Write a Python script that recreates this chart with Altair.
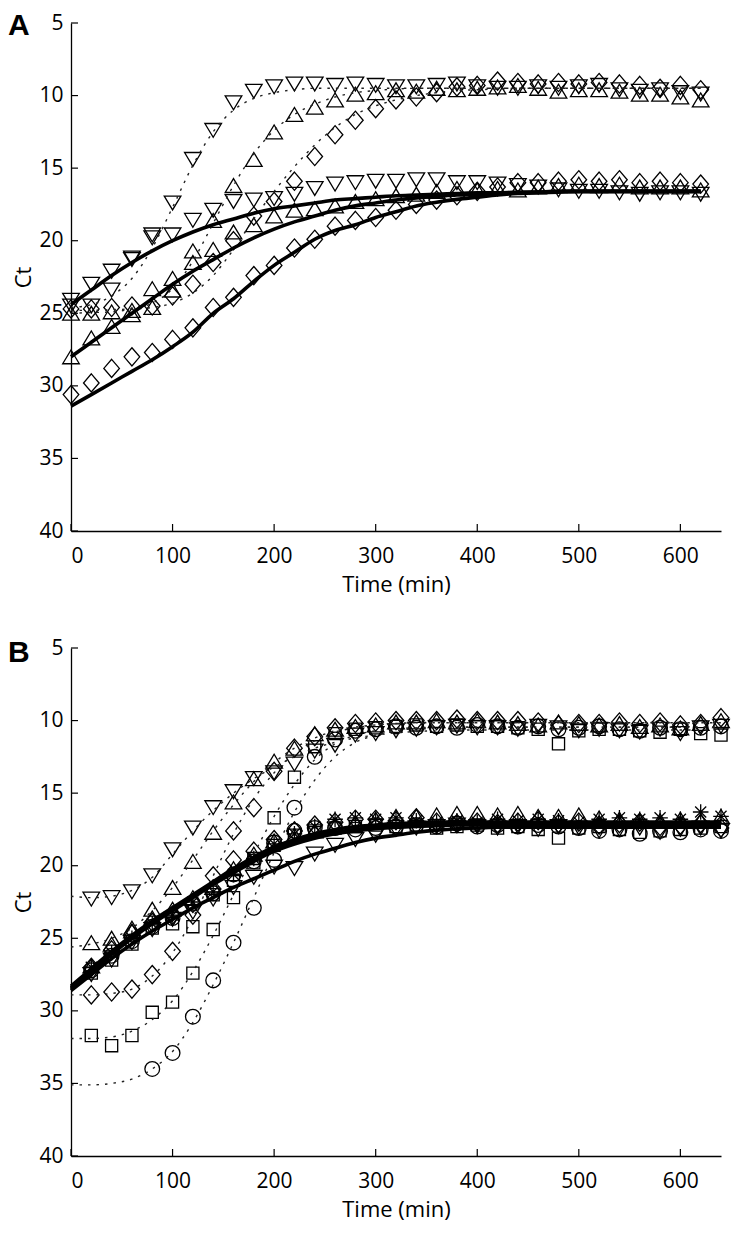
import altair as alt
import pandas as pd

# ---------------- Panel A ----------------
tA = list(range(0, 621, 20))  # 0..620

# dotted (high) group, measured points
A_hi_down = [24.5, 24.5, 23.4, 21.3, 19.8, 17.4, 14.4, 12.4, 10.5, 9.7, 9.4, 9.2, 9.2, 9.3, 9.2, 9.3,
             9.4, 9.4, 9.3, 9.2, 9.4, 9.5, 9.5, 9.4, 9.5, 9.4, 9.3, 9.6, 9.7, 9.6, 9.8, 9.9]
A_hi_up = [25.0, 25.0, 24.9, 24.8, 24.6, 23.4, 20.7, 18.6, 16.2, 14.4, 12.5, 11.3, 10.8, 10.3, 9.9, 9.8,
           9.6, 9.7, 9.5, 9.6, 9.5, 9.4, 9.3, 9.5, 9.7, 9.6, 9.6, 9.7, 9.9, 9.9, 10.1, 10.3]
A_hi_dia = [24.7, 24.7, 24.6, 24.5, 24.5, 23.8, 23.0, 21.5, 20.0, 18.3, 17.3, 15.9, 14.2, 12.7, 11.7, 10.9,
            10.3, 10.1, 9.8, 9.4, 9.3, 9.0, 9.1, 9.2, 9.1, 9.2, 9.1, 9.2, 9.3, 9.5, 9.3, 9.6]

# solid (low) group, measured points
A_lo_down = [24.1, 23.0, 22.1, 21.2, 19.6, 19.6, 18.6, 17.9, 17.3, 17.2, 17.1, 16.8, 16.4, 16.1, 16.0, 15.9,
             15.9, 15.8, 15.8, 16.0, 16.0, 16.1, 16.2, 16.3, 16.5, 16.6, 16.6, 16.7, 16.8, 16.7, 16.7, 16.8]
A_lo_up = [28.0, 26.7, 25.9, 25.1, 23.3, 22.6, 21.5, 20.6, 19.4, 18.9, 18.3, 17.9, 17.8, 17.6, 17.3, 17.1,
           16.9, 16.8, 16.6, 16.4, 16.5, 16.4, 16.5, 16.3, 16.2, 16.1, 16.2, 16.1, 16.3, 16.3, 16.3, 16.5]
A_lo_dia = [30.6, 29.8, 28.8, 28.0, 27.7, 26.8, 26.0, 24.6, 23.9, 22.4, 21.7, 20.5, 19.9, 19.0, 18.6, 18.4,
            17.9, 17.5, 17.2, 16.9, 16.6, 16.3, 16.0, 16.0, 15.9, 15.8, 15.9, 15.8, 16.0, 15.9, 16.0, 16.1]

# fitted curves, panel A
A_fit_hi_down = [24.6, 24.4, 23.8, 22.6, 20.5, 17.7, 14.8, 12.5, 11.0, 10.2, 9.8, 9.6] + [9.5] * 20
A_fit_hi_up = [25.0, 24.95, 24.9, 24.7, 24.3, 23.3, 21.4, 18.8, 16.2, 14.0, 12.4, 11.3, 10.6, 10.1, 9.8,
               9.65, 9.55] + [9.5] * 15
A_fit_hi_dia = [24.8, 24.8, 24.75, 24.7, 24.6, 24.3, 23.6, 22.4, 20.6, 18.5, 16.6, 14.9, 13.4, 12.2, 11.3,
                10.7, 10.3, 10.0, 9.8, 9.65, 9.6, 9.55] + [9.5] * 10
A_fit_lo_down = [24.4, 23.4, 22.4, 21.5, 20.7, 20.0, 19.4, 18.9, 18.5, 18.1, 17.8, 17.6, 17.4, 17.2, 17.1,
                 17.0, 16.9, 16.85, 16.8, 16.75, 16.7, 16.7, 16.65, 16.65] + [16.6] * 8
A_fit_lo_up = [28.0, 27.0, 26.0, 25.0, 24.0, 23.0, 22.1, 21.3, 20.5, 19.8, 19.2, 18.7, 18.3, 17.9, 17.6,
               17.4, 17.2, 17.05, 16.95, 16.85, 16.8, 16.7, 16.7, 16.65] + [16.6] * 8
A_fit_lo_dia = [31.4, 30.6, 29.8, 29.0, 28.2, 27.3, 26.3, 25.0, 24.0, 22.8, 21.7, 20.8, 19.9, 19.3, 18.9,
                18.4, 18.0, 17.6, 17.35, 17.15, 17.0, 16.85, 16.75, 16.7, 16.65] + [16.6] * 7

# ---------------- Panel B ----------------
tB = list(range(20, 641, 20))   # measured points 20..640
tBf = list(range(0, 641, 20))   # fitted curves 0..640

B_hi_down = [22.3, 22.2, 21.8, 20.7, 18.9, 17.4, 16.0, 14.9, 14.0, 13.6, 13.0, 12.1, 11.7, 11.0, 10.9, 10.7,
             10.6, 10.5, 10.4, 10.5, 10.5, 10.6, 10.4, 10.5, 10.7, 10.6, 10.7, 10.8, 10.6, 10.9, 10.5, 10.4]
B_hi_up = [25.3, 25.0, 24.3, 23.0, 21.5, 19.7, 17.7, 15.6, 14.0, 12.8, 11.9, 10.9, 10.6, 10.4, 10.3, 10.1,
           10.1, 10.0, 10.1, 10.0, 10.1, 10.2, 10.3, 10.1, 10.2, 10.3, 10.2, 10.4, 10.3, 10.5, 10.2, 10.0]
B_hi_dia = [28.9, 28.7, 28.5, 27.5, 25.9, 23.4, 20.7, 17.6, 16.0, 13.5, 11.9, 11.1, 10.5, 10.2, 10.1, 10.0,
            10.0, 10.0, 9.9, 10.0, 10.0, 10.0, 10.1, 10.3, 10.2, 10.2, 10.1, 10.2, 10.1, 10.3, 10.2, 9.8]
B_hi_sq = [31.7, 32.4, 31.7, 30.1, 29.4, 27.4, 24.4, 22.2, 19.5, 16.7, 13.9, 11.8, 10.9, 10.6, 10.5, 10.4,
           10.3, 10.4, 10.3, 10.4, 10.4, 10.5, 10.6, 11.6, 10.7, 10.6, 10.6, 10.7, 10.8, 10.6, 10.9, 11.0]
tB_circ = list(range(80, 641, 20))
B_hi_circ = [34.0, 32.9, 30.4, 27.9, 25.3, 22.9, 19.6, 16.0, 12.5, 11.3, 10.7, 10.6, 10.4, 10.5, 10.4, 10.5,
             10.3, 10.4, 10.5, 10.4, 10.6, 10.5, 10.4, 10.6, 10.7, 10.5, 10.6, 10.5, 10.4]

B_lo_up = [26.9, 25.4, 24.5, 23.6, 23.0, 22.2, 21.5, 20.2, 19.2, 18.3, 17.9, 17.6, 17.3, 17.0, 16.8, 16.6,
           16.6, 16.5, 16.4, 16.4, 16.5, 16.4, 16.6, 16.6, 16.5, 16.7, 16.8, 16.9, 16.9, 16.8, 16.9, 16.6]
B_lo_ast = [27.0, 26.0, 25.0, 24.0, 23.4, 22.5, 21.8, 20.6, 19.5, 18.5, 17.8, 17.3, 16.8, 16.7, 16.8, 16.7,
            16.9, 17.0, 16.9, 17.0, 16.8, 16.9, 16.8, 16.9, 17.0, 16.8, 16.7, 16.8, 16.7, 16.8, 16.3, 16.6]
B_lo_circ = [27.2, 26.2, 25.2, 24.2, 23.6, 22.6, 21.9, 20.6, 19.7, 18.4, 17.6, 17.4, 17.4, 17.5, 17.4, 17.3,
             17.2, 17.3, 17.1, 17.3, 17.2, 17.3, 17.2, 17.3, 17.4, 17.6, 17.5, 17.8, 17.6, 17.7, 17.5, 17.6]
B_lo_sq = [27.4, 26.5, 25.4, 24.3, 24.0, 24.2, 22.0, 21.0, 19.8, 18.6, 17.9, 17.6, 17.4, 17.3, 17.2, 17.3,
           17.2, 17.4, 17.3, 17.2, 17.4, 17.3, 17.5, 18.1, 17.4, 17.3, 17.5, 17.7, 17.6, 17.5, 17.4, 17.3]
B_lo_dia = [27.0, 25.8, 24.7, 23.9, 23.4, 22.6, 21.6, 19.6, 19.0, 18.2, 17.6, 17.2, 17.0, 16.8, 16.8, 16.9,
            16.7, 17.0, 17.1, 17.0, 17.1, 17.0, 16.9, 17.1, 17.0, 17.2, 17.1, 17.0, 17.3, 17.2, 17.1, 17.4]
B_lo_down = [27.5, 26.5, 25.3, 24.4, 23.7, 23.2, 22.3, 21.5, 20.8, 20.1, 20.2, 19.2, 18.6, 18.2, 17.9, 17.5,
             17.4, 17.3, 17.2, 17.3, 17.4, 17.3, 17.5, 17.3, 17.4, 17.6, 17.5, 17.4, 17.7, 17.5, 17.4, 17.6]

B_fit_hi_down = [22.1, 22.2, 22.1, 21.7, 20.8, 19.2, 17.6, 16.2, 15.0, 14.0, 13.2, 12.5, 11.9, 11.5, 11.2,
                 11.0, 10.85, 10.75, 10.7] + [10.65] * 14
B_fit_hi_up = [25.6, 25.4, 25.0, 24.3, 23.1, 21.5, 19.6, 17.6, 15.8, 14.2, 12.9, 11.9, 11.2, 10.7, 10.45,
               10.3, 10.2] + [10.15] * 16
B_fit_hi_dia = [28.9, 28.9, 28.8, 28.5, 27.6, 26.0, 23.6, 20.7, 17.8, 15.4, 13.6, 12.3, 11.4, 10.8, 10.5,
                10.3, 10.2] + [10.15] * 16
B_fit_hi_sq = [31.9, 31.9, 31.8, 31.4, 30.6, 29.3, 27.3, 24.8, 22.0, 19.2, 16.6, 14.4, 12.7, 11.6, 11.0,
               10.7, 10.55, 10.5] + [10.45] * 15
B_fit_hi_circ = [35.1, 35.1, 35.0, 34.7, 34.0, 32.8, 30.8, 28.2, 25.3, 22.2, 19.1, 16.3, 14.1, 12.5, 11.5,
                 11.0, 10.7, 10.55, 10.5] + [10.45] * 14

B_fit_lo_1 = [28.3, 27.1, 25.9, 24.8, 23.8, 22.9, 22.0, 21.1, 20.2, 19.4, 18.7, 18.2, 17.8, 17.5, 17.3,
              17.2, 17.1, 17.05] + [17.0] * 15
B_fit_lo_2 = [28.5, 27.3, 26.1, 25.0, 24.0, 23.1, 22.2, 21.3, 20.5, 19.7, 19.0, 18.5, 18.1, 17.8, 17.6,
              17.45, 17.35, 17.3, 17.25] + [17.2] * 14
B_fit_lo_3 = [28.6, 27.5, 26.4, 25.4, 24.5, 23.7, 22.9, 22.2, 21.5, 20.9, 20.3, 19.7, 19.2, 18.8, 18.4,
              18.1, 17.9, 17.7, 17.55, 17.45, 17.4] + [17.35] * 12
B_fit_lo_4 = [28.4, 27.2, 26.0, 24.9, 23.9, 23.0, 22.1, 21.2, 20.3, 19.5, 18.9, 18.4, 18.0, 17.7, 17.5,
              17.35, 17.25, 17.2] + [17.15] * 15

y_ticks = [5, 10, 15, 20, 25, 30, 35, 40]
x_ticks = [0, 100, 200, 300, 400, 500, 600]

# ---------------- marker shapes ----------------
SHAPES = {
    "down": "M-0.96,-0.8L0.96,-0.8L0,0.8Z",
    "up": "M-0.96,0.8L0.96,0.8L0,-0.8Z",
    "dia": "M0,-1.05L0.9,0L0,1.05L-0.9,0Z",
    "sq": "M-0.7,-0.7L0.7,-0.7L0.7,0.7L-0.7,0.7Z",
    "circ": "M0.85,0A0.85,0.85,0,1,1,-0.85,0A0.85,0.85,0,1,1,0.85,0Z",
    "ast": "M-0.9,0L0.9,0M0,-0.9L0,0.9M-0.64,-0.64L0.64,0.64M-0.64,0.64L0.64,-0.64",
}
shape_scale = alt.Scale(domain=list(SHAPES.keys()), range=list(SHAPES.values()))

W, H = 650, 508


def pts(t, vals, shape):
    return pd.DataFrame({"t": t, "ct": vals, "shape": shape})


def curve(t, vals, name):
    return pd.DataFrame({"t": t, "ct": vals, "series": name})


def panel(points, dotted, solid, label, label_y):
    xs = alt.Scale(domain=[0, 640], nice=False, zero=False)
    ys = alt.Scale(domain=[5, 40], reverse=True, nice=False, zero=False)
    xax = alt.Axis(values=x_ticks, title="Time (min)", labelPadding=14, titlePadding=8)
    yax = alt.Axis(values=y_ticks, title="Ct", labelPadding=8, titlePadding=3)

    p = alt.Chart(points).mark_point(filled=False, color="black", strokeWidth=1.3, opacity=1, size=300).encode(
        x=alt.X("t:Q", scale=xs, axis=xax),
        y=alt.Y("ct:Q", scale=ys, axis=yax),
        shape=alt.Shape("shape:N", scale=shape_scale, legend=None),
    )
    d = alt.Chart(dotted).mark_line(color="#222", strokeWidth=1.4, strokeDash=[2.5, 6], interpolate="monotone").encode(
        x="t:Q", y="ct:Q", detail="series:N")
    s = alt.Chart(solid).mark_line(color="black", strokeWidth=3.6, interpolate="monotone").encode(
        x="t:Q", y="ct:Q", detail="series:N")
    yt = alt.Chart(pd.DataFrame({"v": y_ticks})).mark_rule(color="black", strokeWidth=1.2).encode(
        y="v:Q", x=alt.value(0), x2=alt.value(7))
    xt = alt.Chart(pd.DataFrame({"v": x_ticks})).mark_rule(color="black", strokeWidth=1.2).encode(
        x="v:Q", y=alt.value(H), y2=alt.value(H - 7))
    lab = alt.Chart(pd.DataFrame({"l": [label]})).mark_text(
        font="Liberation Sans", fontWeight="bold", fontSize=30, align="left", baseline="top", color="black"
    ).encode(text="l:N", x=alt.value(-63), y=alt.value(label_y))
    return alt.layer(p, d, s, yt, xt, lab).properties(width=W, height=H)


ptsA = pd.concat([
    pts(tA, A_hi_down, "down"), pts(tA, A_hi_up, "up"), pts(tA, A_hi_dia, "dia"),
    pts(tA, A_lo_down, "down"), pts(tA, A_lo_up, "up"), pts(tA, A_lo_dia, "dia"),
])
dotA = pd.concat([curve(tA, A_fit_hi_down, "d1"), curve(tA, A_fit_hi_up, "d2"), curve(tA, A_fit_hi_dia, "d3")])
solA = pd.concat([curve(tA, A_fit_lo_down, "s1"), curve(tA, A_fit_lo_up, "s2"), curve(tA, A_fit_lo_dia, "s3")])

ptsB = pd.concat([
    pts(tB, B_hi_down, "down"), pts(tB, B_hi_up, "up"), pts(tB, B_hi_dia, "dia"),
    pts(tB, B_hi_sq, "sq"), pts(tB_circ, B_hi_circ, "circ"),
    pts(tB, B_lo_down, "down"), pts(tB, B_lo_up, "up"), pts(tB, B_lo_dia, "dia"),
    pts(tB, B_lo_sq, "sq"), pts(tB, B_lo_circ, "circ"), pts(tB, B_lo_ast, "ast"),
])
dotB = pd.concat([curve(tBf, B_fit_hi_down, "d1"), curve(tBf, B_fit_hi_up, "d2"), curve(tBf, B_fit_hi_dia, "d3"),
                  curve(tBf, B_fit_hi_sq, "d4"), curve(tBf, B_fit_hi_circ, "d5")])
solB = pd.concat([curve(tBf, B_fit_lo_1, "s1"), curve(tBf, B_fit_lo_2, "s2"), curve(tBf, B_fit_lo_3, "s3"),
                  curve(tBf, B_fit_lo_4, "s4")])

chart = alt.vconcat(
    panel(ptsA, dotA, solA, "A", -12),
    panel(ptsB, dotB, solB, "B", -10),
    spacing=42,
).properties(padding={"left": 0, "top": 3, "right": 0, "bottom": 2}).configure_view(stroke=None).configure_axis(
    domainColor="black", domainWidth=1.3, labelColor="black", labelFont="Open Sans", labelFontSize=21,
    titleFont="Open Sans", titleFontSize=22, titleFontWeight="normal", titleColor="black",
    grid=False, ticks=False, tickSize=0,
)

chart.save("out.html", embed_options={"renderer": "svg", "actions": False})
